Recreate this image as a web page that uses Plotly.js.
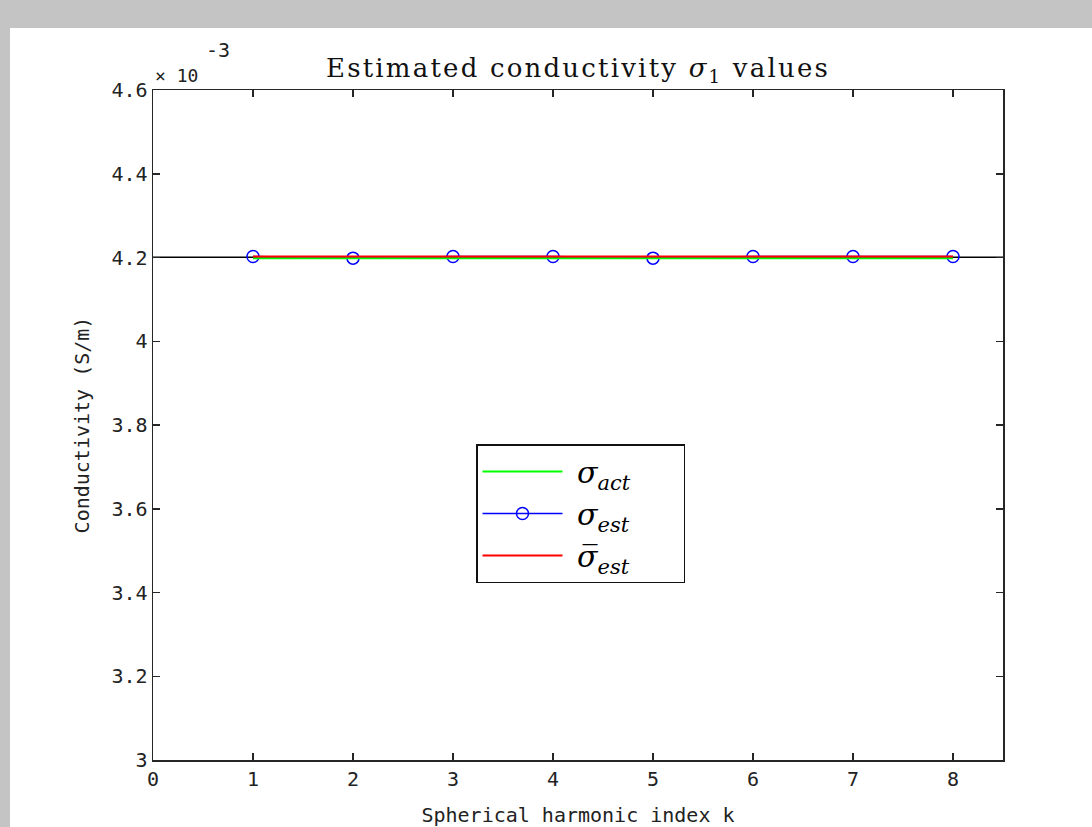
<!DOCTYPE html>
<html>
<head>
<meta charset="utf-8">
<script src="https://cdn.plot.ly/plotly-3.0.1.min.js"></script>
<style>
html, body { margin:0; padding:0; background:#c4c4c4; overflow:hidden; width:1092px; height:827px; }
#plot { position:absolute; left:10px; top:28px; width:1082px; height:799px; background:#fff; }
.gtitle { letter-spacing: 2.2px; }
</style>
</head>
<body>
<div id="plot"></div>
<script>
// Spherical harmonic index k
const k = [1, 2, 3, 4, 5, 6, 7, 8];
// Conductivity values (×10^-3 S/m)
const sigmaAct = [4.1985, 4.1985, 4.1985, 4.1985, 4.1985, 4.1985, 4.1985, 4.1985];
const sigmaEst = [4.2025, 4.1985, 4.2025, 4.2025, 4.1985, 4.2025, 4.2025, 4.2025];
const sigmaMean = [4.2022, 4.2022, 4.2022, 4.2022, 4.2022, 4.2022, 4.2022, 4.2022];
// Black reference line across full axis
const refX = [0, 8.5];
const refY = [4.2003, 4.2003];
const xTicks = [0, 1, 2, 3, 4, 5, 6, 7, 8];
const yTicks = [3, 3.2, 3.4, 3.6, 3.8, 4, 4.2, 4.4, 4.6];
const yTickText = ["3", "3.2", "3.4", "3.6", "3.8", "4", "4.2", "4.4", "4.6"];
const legendNames = ['<i>σ</i><sub><i>act</i></sub>', '<i>σ</i><sub><i>est</i></sub>', '<i>σ̅</i><sub><i>est</i></sub>'];

const mono = "DejaVu Sans Mono, monospace";
const serif = "DejaVu Serif, serif";
const pad = s => '&nbsp;' + s + '&nbsp;&nbsp;&nbsp;&nbsp;&nbsp;';

const traces = [
  { x: refX, y: refY, mode: 'lines', line: {color: '#000000', width: 1.5}, showlegend: false, hoverinfo: 'skip' },
  { x: k, y: sigmaEst, mode: 'lines+markers', name: pad(legendNames[1]), legendrank: 2,
    line: {color: '#0000ff', width: 1.5},
    marker: {symbol: 'circle-open', size: 12, color: '#0000ff', line: {width: 1.5, color: '#0000ff'}} },
  { x: k, y: sigmaAct, mode: 'lines', name: pad(legendNames[0]), legendrank: 1,
    line: {color: '#00ff00', width: 2} },
  { x: k, y: sigmaMean, mode: 'lines', name: pad(legendNames[2]), legendrank: 3,
    line: {color: '#ff0000', width: 2} }
];

const axisCommon = {
  showgrid: false, zeroline: false, showline: true, mirror: 'ticks',
  linecolor: '#262626', linewidth: 1.5,
  ticks: 'inside', ticklen: 7, tickwidth: 1.5, tickcolor: '#262626',
  tickfont: {family: mono, size: 20, color: '#222'}
};

const layout = {
  width: 1082, height: 799,
  paper_bgcolor: '#ffffff', plot_bgcolor: '#ffffff',
  margin: {l: 143, r: 89, t: 62, b: 67},
  title: {text: 'Estimated conductivity <i>σ</i><sub>1</sub> values', font: {family: serif, size: 26, color: '#111'},
          x: 0.5, xref: 'paper', xanchor: 'center', y: 0.95, yref: 'container', yanchor: 'middle'},
  xaxis: Object.assign({}, axisCommon, {
    range: [0, 8.5], tickvals: xTicks, ticktext: xTicks.map(String),
    title: {text: 'Spherical harmonic index k', font: {family: mono, size: 20, color: '#222'}, standoff: 18}
  }),
  yaxis: Object.assign({}, axisCommon, {
    range: [3, 4.6], tickvals: yTicks, ticktext: yTickText,
    title: {text: 'Conductivity (S/m)', font: {family: mono, size: 20, color: '#222'}, standoff: 16}
  }),
  legend: {
    x: 0.38, y: 0.4716, xanchor: 'left', yanchor: 'top',
    bgcolor: '#ffffff', bordercolor: '#111', borderwidth: 1.5,
    font: {family: serif, size: 30, color: '#000'},
    itemwidth: 80, tracegroupgap: 0, traceorder: 'normal'
  },
  annotations: [
    {xref: 'paper', yref: 'paper', x: 0, y: 1, xanchor: 'left', yanchor: 'bottom', yshift: 2,
     text: '× 10', showarrow: false, font: {family: mono, size: 18, color: '#222'}},
    {xref: 'paper', yref: 'paper', x: 0.06, y: 1, xanchor: 'left', yanchor: 'bottom', yshift: 26,
     text: '-3', showarrow: false, font: {family: mono, size: 20, color: '#222'}}
  ],
  showlegend: true
};

Plotly.newPlot('plot', traces, layout, {displayModeBar: false, staticPlot: true});
</script>
</body>
</html>
